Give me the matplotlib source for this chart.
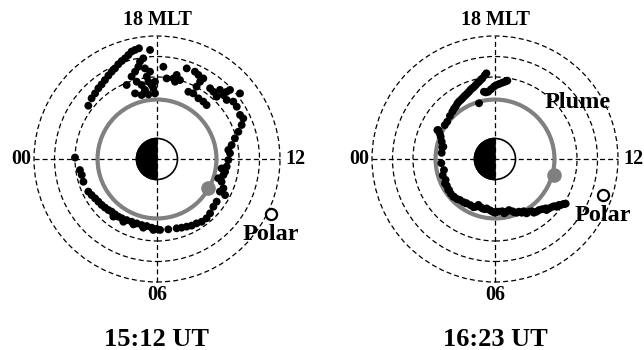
import numpy as np
import matplotlib
matplotlib.use("Agg")
import matplotlib.pyplot as plt
from matplotlib.patches import Circle, Wedge

plt.rcParams['font.family'] = ['Liberation Serif', 'DejaVu Serif']
plt.rcParams['font.weight'] = 'bold'

# positions in R_E, X toward 12 MLT (sun), Y toward 18 MLT
left_x = [-3.35, -3.19, -3.02, -2.86, -2.70, -2.54, -2.37, -2.21, -2.05, -1.89, -1.72, -1.56,
          -1.40, -1.24, -1.07, -0.88, -0.34,
          -1.24, -1.07, -0.91, -0.83, -0.67, -0.99, -0.75, -0.50, -0.42, -0.26, -0.59, -0.18,
          -0.75, -0.42, -1.48, -1.07, -0.34, -0.59, -0.10, -0.10,
          0.31, 0.47, 0.80, 0.96, 0.88, 1.12, 1.45, 1.85, 2.02, 2.26, 2.10, 1.53, 1.93, 1.77,
          2.02, 2.26, 2.42, 2.59, 2.75, 2.91, 3.07, 3.24, 3.40, 3.56, 3.40, 3.72, 4.05, 3.89,
          4.05, 4.21, 4.13, 3.97, 3.80, 3.64, 3.56, 3.48, 3.40, 3.32, 3.24, 3.15, 3.24, 3.32,
          3.07, 2.91, 2.75, 2.59, 2.42, 2.18, 1.93, 1.69, 1.45, 1.20, 0.96, 0.55,
          3.48, 3.15, 2.99,
          -4.00, -3.76, -3.67, -3.59, -3.35, -3.19, -3.02, -2.86, -2.70, -2.54, -2.37, -2.21,
          -2.05, -1.89, -1.72, -1.48, -1.24, -0.99, -0.75, -0.50, -0.26, -0.02, 0.15,
          -2.13, -1.64, -1.15, -0.67, -0.18]
left_y = [2.60, 2.96, 3.20, 3.45, 3.64, 3.85, 4.07, 4.26, 4.42, 4.62, 4.78, 4.91,
          5.07, 5.24, 5.32, 5.40, 5.32,
          4.02, 4.26, 4.50, 4.75, 4.91, 3.77, 3.61, 4.02, 3.77, 3.61, 3.37, 3.45,
          3.12, 3.15, 3.61, 3.20, 4.26, 4.42, 3.77, 3.20,
          4.50, 3.93, 3.93, 4.10, 3.77, 3.85, 4.42, 4.26, 4.10, 3.93, 3.77, 3.28, 3.53, 3.20,
          2.96, 2.80, 2.63, 3.45, 3.28, 3.04, 3.37, 3.12, 3.28, 3.37, 2.88, 2.80, 3.20, 2.55,
          2.15, 1.98, 1.66, 1.33, 1.01, 0.68, 0.28, -0.05, -0.37, -0.62, -0.78, -1.11, -1.43, -1.76,
          -1.59, -2.08, -2.33, -2.65, -2.89, -3.06, -3.14, -3.25, -3.30, -3.35, -3.38, -3.43,
          0.44, -0.46, -0.94,
          0.07, -0.54, -0.78, -1.11, -1.59, -1.76, -1.92, -2.08, -2.24, -2.37, -2.49, -2.57,
          -2.70, -2.81, -2.89, -2.98, -3.06, -3.14, -3.22, -3.27, -3.35, -3.41, -3.46,
          -2.81, -3.06, -3.19, -3.35, -3.46]

right_x = [-0.42, -0.62, -0.78, -0.94, -1.11, -1.27, -1.43, -1.59, -1.76, -1.92, -2.08,
           -2.33, -2.81, -2.65, -2.57,
           -0.50, -0.70, -0.86, -1.02, -1.19, -1.35, -1.51, -1.67, -1.84, -2.00, -2.20, -2.45,
           -2.70, -2.60,
           -0.54, -0.33, -0.05, 0.20, 0.49, 0.60, -0.78, -0.45, -0.20, 0.05, 0.35,
           -2.76, -2.52, -2.49, -2.41, -2.44, -2.24, -2.28, -2.00, -2.03, -1.71, -1.43, -1.38,
           -0.94, -0.81, -0.62, -0.41, -0.13, 0.08, 0.20, 0.57, 0.68, 1.06, 1.17, 1.54, 1.66,
           2.03, 2.15, 2.47, 2.52, 2.80, 3.01, 3.12, 3.33, 3.37,
           -2.60, -2.62, -2.55, -2.35, -2.15, -1.85, -1.55, -1.20, -1.05, -0.70, -0.50, -0.25,
           0.00, 0.35, 0.45, 0.85, 0.95, 1.30, 1.40, 1.80, 1.90, 2.30, 2.65, 2.90, 3.20, 3.45]
right_y = [4.18, 3.93, 3.77, 3.61, 3.45, 3.28, 3.12, 2.96, 2.80, 2.55, 2.31,
           1.82, 1.41, 1.09, 0.57,
           4.08, 3.86, 3.70, 3.52, 3.38, 3.20, 3.05, 2.88, 2.70, 2.45, 2.10, 1.65,
           1.25, 0.85,
           3.28, 3.28, 3.53, 3.66, 3.77, 3.82, 2.72, 3.25, 3.40, 3.60, 3.72,
           1.41, 0.60, -0.54, -1.02, -1.19, -1.51, -1.51, -1.84, -1.84, -2.00, -2.16, -2.16,
           -2.33, -2.24, -2.41, -2.41, -2.57, -2.57, -2.57, -2.57, -2.49, -2.62, -2.57, -2.65, -2.57,
           -2.57, -2.49, -2.41, -2.49, -2.33, -2.33, -2.24, -2.20, -2.20,
           0.30, -0.20, -0.80, -1.30, -1.70, -1.95, -2.10, -2.25, -2.35, -2.35, -2.45, -2.50,
           -2.62, -2.55, -2.65, -2.55, -2.60, -2.62, -2.55, -2.55, -2.62, -2.45, -2.40, -2.30,
           -2.25, -2.18]

ring_radii = [4, 5, 6]
plume_radius = 2.9
sat_left = (2.50, -1.43)      # gray dot on the plasmapause circle
sat_right = (2.88, -0.78)
polar_left = (5.56, -2.68)
polar_right = (5.27, -1.76)
titles = ['15:12 UT', '16:23 UT']

fig = plt.figure(figsize=(6.44, 3.5), dpi=100)
W, H = 644, 350
scale = 20.5  # px per R_E
half = 7.0


def panel(cx, cy, xs, ys, sat, polar, title, plume_label):
    size = 2 * half * scale
    ax = fig.add_axes([(cx - half * scale) / W, (H - cy - half * scale) / H, size / W, size / H])
    ax.set_xlim(-half, half)
    ax.set_ylim(-half, half)
    ax.axis('off')

    dash = (0, (4, 2.5))
    for r in ring_radii:
        ax.add_patch(Circle((0, 0), r, fill=False, ec='black', lw=0.9, ls=dash, zorder=1))
    # earth: night side black
    ax.add_patch(Circle((0, 0), 1, fc='white', ec='black', lw=1.2, zorder=2))
    ax.add_patch(Wedge((0, 0), 1, 90, 270, fc='black', ec='black', lw=1.2, zorder=2))
    ax.plot([-6, 6], [0, 0], color='black', lw=0.9, ls=dash, zorder=3)
    ax.plot([0, 0], [-6, 6], color='black', lw=0.9, ls=dash, zorder=3)

    ax.add_patch(Circle((0, 0), plume_radius, fill=False, ec='#808080', lw=3.0, zorder=4))
    ax.scatter(xs, ys, s=32, color='black', edgecolors='none', zorder=5)
    ax.plot(sat[0], sat[1], 'o', color='#808080', ms=9.5, zorder=6)
    ax.plot(polar[0], polar[1], 'o', mfc='white', mec='black', mew=1.6, ms=8, zorder=6)

    ax.text(0, 6.78, '18 MLT', ha='center', va='center', fontsize=14.5)
    ax.text(0, -6.63, '06', ha='center', va='center', fontsize=14.5)
    ax.text(-6.15, 0, '00', ha='right', va='center', fontsize=14.5)
    ax.text(6.25, 0, '12', ha='left', va='center', fontsize=14.5)
    ax.text(polar[0], polar[1] - 1.0, 'Polar', ha='center', va='center', fontsize=17.5, zorder=7)
    if plume_label:
        ax.text(4.05, 2.78, 'Plume', ha='center', va='center', fontsize=17.5, zorder=7)
    fig.text(cx / W, 1 - 340 / H, title, ha='center', va='center', fontsize=19)


panel(157, 159, left_x, left_y, sat_left, polar_left, titles[0], False)
panel(495, 159, right_x, right_y, sat_right, polar_right, titles[1], True)

fig.savefig('out.png', dpi=100)
